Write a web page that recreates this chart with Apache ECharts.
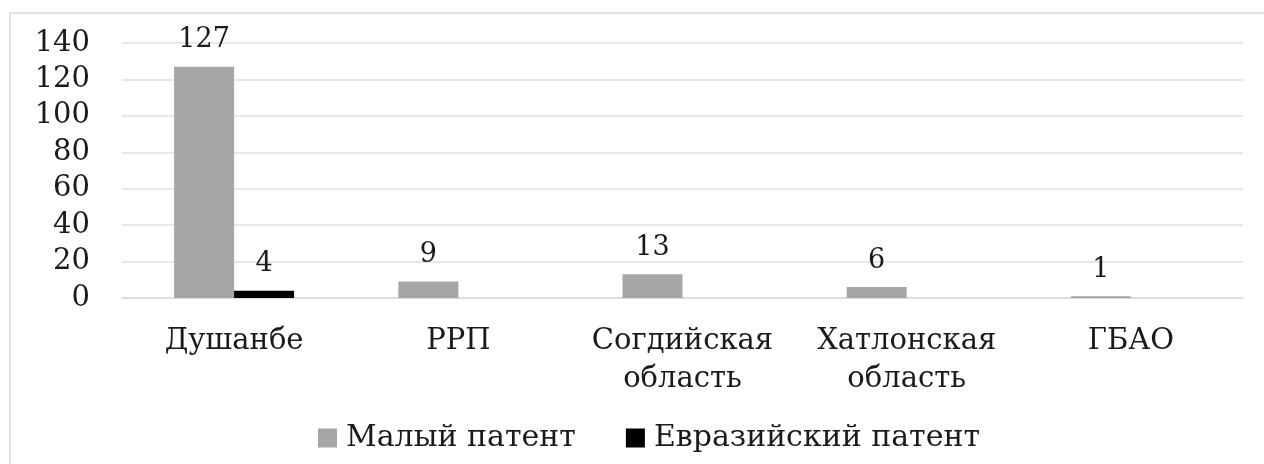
<!DOCTYPE html>
<html>
<head>
<meta charset="utf-8">
<script src="https://cdn.jsdelivr.net/npm/echarts@6/dist/echarts.min.js"></script>
<style>
  html, body { margin: 0; padding: 0; background: #fff; }
  #container { width: 1264px; height: 464px; }
</style>
</head>
<body>
<div id="container"></div>
<script>
const categories = ['Душанбе', 'РРП', 'Согдийская\nобласть', 'Хатлонская\nобласть', 'ГБАО'];
const smallPatent = [127, 9, 13, 6, 1];
const eurasianPatent = [4, 0, 0, 0, 0];
const seriesNames = ['Малый патент', 'Евразийский патент'];

const font = '"DejaVu Serif", "Liberation Serif", serif';
const textColor = '#1a1a1a';

const labelOpt = {
    show: true,
    position: 'top',
    distance: 13,
    fontFamily: font,
    fontSize: 27,
    color: textColor,
    formatter: p => (p.value ? p.value : '')
};

const myChart = echarts.init(document.getElementById('container'));
const option = {
    backgroundColor: '#ffffff',
    animation: false,
    graphic: [{
        type: 'rect',
        shape: { x: 10, y: 13, width: 1300, height: 500 },
        style: { fill: 'none', stroke: '#d9d9d9', lineWidth: 1.5 },
        z: -1
    }],
    grid: { left: 122, right: 21, top: 43, bottom: 166 },
    legend: {
        left: 313,
        top: 418,
        itemWidth: 19,
        itemHeight: 19,
        itemGap: 50,
        icon: 'rect',
        textStyle: { fontFamily: font, fontSize: 30, color: textColor, padding: [0, 0, 0, 4] },
        data: seriesNames
    },
    xAxis: {
        type: 'category',
        data: categories,
        axisTick: { show: false },
        axisLine: { lineStyle: { color: '#d9d9d9', width: 1.5 } },
        axisLabel: {
            fontFamily: font,
            fontSize: 29,
            color: textColor,
            margin: 24,
            lineHeight: 38,
            interval: 0
        }
    },
    yAxis: {
        type: 'value',
        min: 0,
        max: 140,
        interval: 20,
        axisLine: { show: false },
        axisTick: { show: false },
        splitLine: { lineStyle: { color: '#e0e0e0', width: 1.5 } },
        axisLabel: {
            fontFamily: font,
            fontSize: 29,
            color: textColor,
            margin: 32
        }
    },
    series: [
        {
            name: seriesNames[0],
            type: 'bar',
            data: smallPatent,
            barWidth: 60,
            barGap: '0%',
            itemStyle: { color: '#a6a6a6' },
            label: labelOpt
        },
        {
            name: seriesNames[1],
            type: 'bar',
            data: eurasianPatent,
            barWidth: 60,
            itemStyle: { color: '#000000' },
            label: labelOpt
        }
    ]
};
myChart.setOption(option);
</script>
</body>
</html>
